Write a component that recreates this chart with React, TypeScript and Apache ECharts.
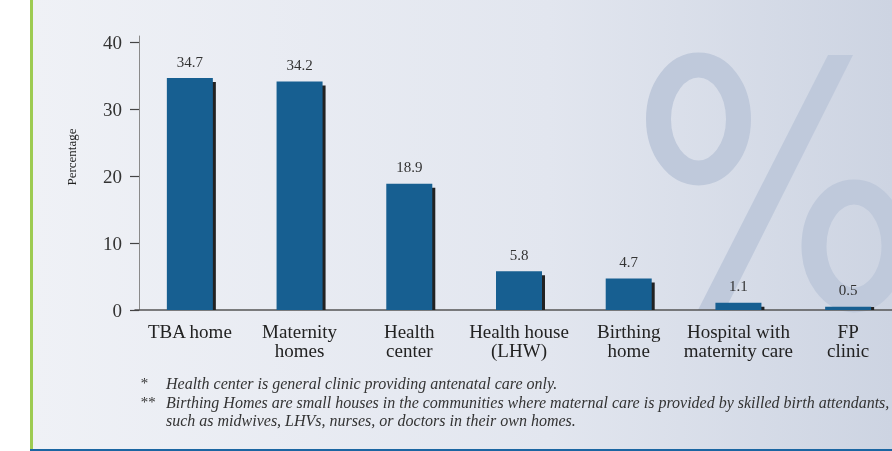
import React, { useEffect, useRef } from "react";
import * as echarts from "echarts";

const categories = [
  "TBA home",
  "Maternity\nhomes",
  "Health\ncenter",
  "Health house\n(LHW)",
  "Birthing\nhome",
  "Hospital with\nmaternity care",
  "FP\nclinic",
];
const values = [34.7, 34.2, 18.9, 5.8, 4.7, 1.1, 0.5];
const yTicks = [0, 10, 20, 30, 40];
const yAxisName = "Percentage";
const footnotes = [
  { mark: "*", lines: ["Health center is general clinic providing antenatal care only."] },
  {
    mark: "**",
    lines: [
      "Birthing Homes are small houses in the communities where maternal care is provided by skilled birth attendants,",
      "such as midwives, LHVs, nurses, or doctors in their own homes.",
    ],
  },
];

const SERIF = "'Liberation Serif', 'Times New Roman', serif";
const WM = "#bfc9db";

export default function App() {
  const ref = useRef<HTMLDivElement>(null);
  useEffect(() => {
    document.body.style.margin = "0";
    const chart = echarts.init(ref.current!, null, { renderer: "svg" });
    const footGraphics: any[] = [];
    const footY = [383, 402, 420];
    let li = 0;
    footnotes.forEach((f) => {
      footGraphics.push({
        type: "text",
        x: 140,
        y: footY[li],
        z: 5,
        style: {
          text: f.mark,
          font: `italic 15px ${SERIF}`,
          fill: "#333",
          verticalAlign: "middle",
        },
      });
      f.lines.forEach((l) => {
        footGraphics.push({
          type: "text",
          x: 166,
          y: footY[li],
          z: 5,
          style: {
            text: l,
            font: `italic 16px ${SERIF}`,
            fill: "#333",
            verticalAlign: "middle",
          },
        });
        li += 1;
      });
    });
    const option: any = {
      animation: false,
      graphic: [
        {
          type: "rect",
          z: -20,
          shape: { x: 33, y: 0, width: 859, height: 449 },
          style: {
            fill: new echarts.graphic.LinearGradient(0, 0, 1, 0, [
              { offset: 0, color: "#eff1f6" },
              { offset: 0.6, color: "#e2e6ef" },
              { offset: 1, color: "#cdd4e2" },
            ]),
          },
        },
        { type: "rect", z: -19, shape: { x: 30, y: 0, width: 3, height: 451 }, style: { fill: "#9dcb52" } },
        { type: "rect", z: -19, shape: { x: 30, y: 449, width: 862, height: 2 }, style: { fill: "#1b66a2" } },
        {
          type: "ellipse",
          z: -15,
          shape: { cx: 698.5, cy: 119, rx: 40, ry: 54 },
          style: { fill: "none", stroke: WM, lineWidth: 25 },
        },
        {
          type: "ellipse",
          z: -15,
          shape: { cx: 854, cy: 246, rx: 40, ry: 54 },
          style: { fill: "none", stroke: WM, lineWidth: 25 },
        },
        {
          type: "polygon",
          z: -15,
          shape: { points: [[828, 55], [853, 55], [725, 310], [698, 310]] },
          style: { fill: WM },
        },
        {
          type: "text",
          x: 71,
          y: 157,
          rotation: Math.PI / 2,
          z: 5,
          style: {
            text: yAxisName,
            font: `13px ${SERIF}`,
            fill: "#222",
            align: "center",
            verticalAlign: "middle",
          },
        },
        ...footGraphics,
      ],
      grid: {
        left: 135,
        width: 768,
        top: 36,
        bottom: 141,
        containLabel: false,
        outerBoundsMode: "none",
      },
      xAxis: {
        type: "category",
        data: categories,
        axisLine: { lineStyle: { color: "#555", width: 1.5 } },
        axisTick: { show: false },
        axisLabel: {
          interval: 0,
          color: "#222",
          fontFamily: SERIF,
          fontSize: 19,
          lineHeight: 19,
          margin: 12,
        },
      },
      yAxis: {
        type: "value",
        min: 0,
        max: 41,
        interval: 10,
        offset: -4,
        axisLine: { show: true, lineStyle: { color: "#8a8a8a", width: 1 } },
        axisTick: {
          show: true,
          length: 9,
          customValues: yTicks,
          lineStyle: { color: "#444", width: 1.2 },
        },
        axisLabel: {
          customValues: yTicks,
          color: "#333",
          fontFamily: SERIF,
          fontSize: 19,
          margin: 17,
        },
        splitLine: { show: false },
      },
      series: [
        {
          type: "custom",
          z: 1,
          data: values.map((v, i) => [i, v]),
          renderItem: (params: any, api: any) => {
            const v = api.value(1);
            const top = api.coord([api.value(0), v]);
            const base = api.coord([api.value(0), 0]);
            const bw = 46;
            const sy = Math.min(top[1] + 4, base[1] - 3);
            return {
              type: "rect",
              shape: { x: top[0] - bw / 2 + 3, y: sy, width: bw, height: base[1] - sy },
              style: { fill: "#222" },
            };
          },
        },
        {
          type: "bar",
          z: 3,
          data: values,
          barWidth: 46,
          itemStyle: { color: "#175f91" },
          label: {
            show: true,
            position: "top",
            distance: 9,
            color: "#333",
            fontFamily: SERIF,
            fontSize: 15,
          },
        },
      ],
    };
    chart.setOption(option);
    return () => chart.dispose();
  }, []);
  return (
    <div
      ref={ref}
      style={{ position: "fixed", left: 0, top: 0, width: 892, height: 451 }}
    />
  );
}
